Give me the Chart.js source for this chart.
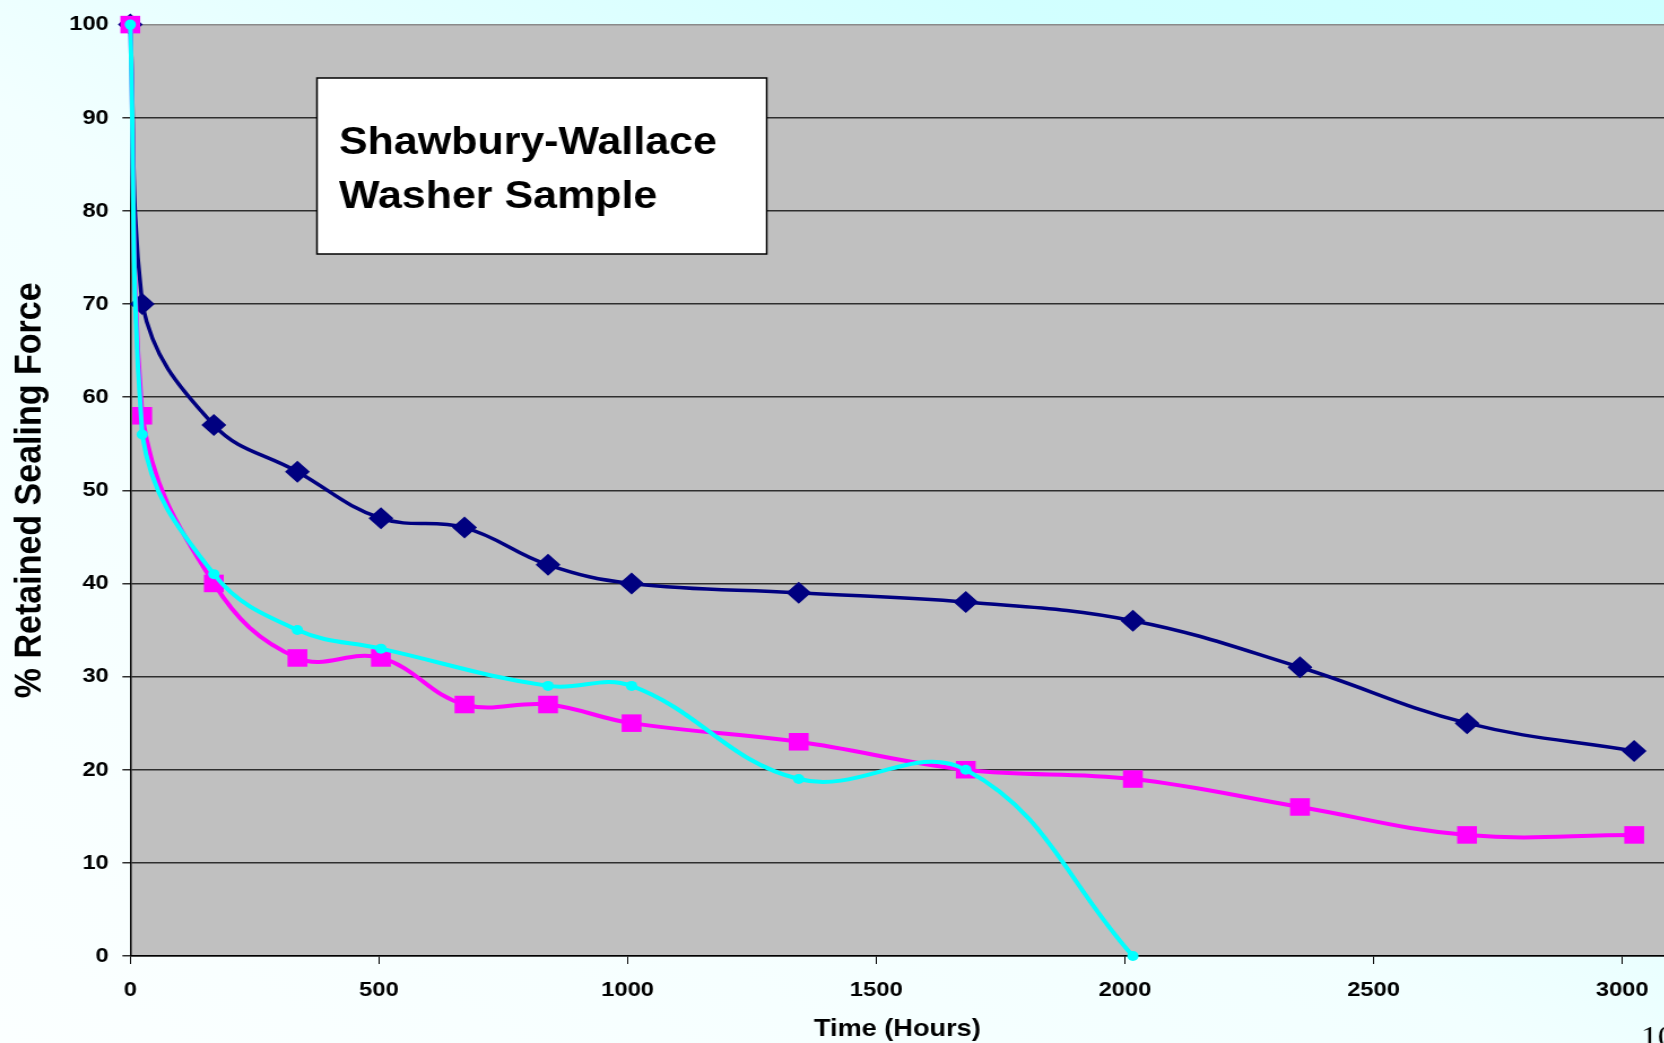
<!DOCTYPE html>
<html>
<head>
<meta charset="utf-8">
<script src="https://cdn.jsdelivr.net/npm/chart.js@4.4.1/dist/chart.umd.min.js"></script>
<style>
    html, body { margin: 0; padding: 0; }
    body {
        width: 1664px; height: 1043px; overflow: hidden;
        background: linear-gradient(to top right, #fbffff 0%, #f2ffff 45%, #d2ffff 80%, #ccffff 100%);
    }
    /* the original slide is stretched sideways, so the canvas is too */
    canvas { display: block; transform: scaleX(1.13); transform-origin: 0 0; }
</style>
</head>
<body>
<canvas id="sealChart" width="1473" height="1043"></canvas>
<script>
// hours on test
const hoursNavy = [0, 24, 168, 336, 504, 672, 840, 1008, 1344, 1680, 2016, 2352, 2688, 3024]
const navyForce = [100, 70, 57, 52, 47, 46, 42, 40, 39, 38, 36, 31, 25, 22]

const hoursPink = [0, 24, 168, 336, 504, 672, 840, 1008, 1344, 1680, 2016, 2352, 2688, 3024]
const pinkForce = [100, 58, 40, 32, 32, 27, 27, 25, 23, 20, 19, 16, 13, 13]

const hoursCyan = [0, 24, 168, 336, 504, 840, 1008, 1344, 1680, 2016]
const cyanForce = [100, 56, 41, 35, 33, 29, 29, 19, 20, 0]

const xTicks = [0, 500, 1000, 1500, 2000, 2500, 3000]
const boxLines = ['Shawbury-Wallace', 'Washer Sample']

const toPoints = (xs, ys) => xs.map((x, i) => ({x: x, y: ys[i]}))
const fontFamily = '"Liberation Sans", Arial, sans-serif'

const plotBackground = {
    id: 'plotBackground',
    beforeDraw(chart) {
        const {ctx, chartArea} = chart
        ctx.save()
        ctx.fillStyle = '#c0c0c0'
        ctx.fillRect(chartArea.left, chartArea.top, chartArea.right - chartArea.left, chartArea.bottom - chartArea.top)
        ctx.restore()
    }
}

const sampleBox = {
    id: 'sampleBox',
    afterDatasetsDraw(chart) {
        const ctx = chart.ctx
        ctx.save()
        ctx.fillStyle = '#ffffff'
        ctx.fillRect(280.5, 78, 398, 176)
        ctx.strokeStyle = '#000000'
        ctx.lineWidth = 1.5
        ctx.strokeRect(280.5, 78, 398, 176)
        ctx.fillStyle = '#000000'
        ctx.font = 'bold 38px ' + fontFamily
        ctx.textBaseline = 'alphabetic'
        ctx.fillText(boxLines[0], 300, 154)
        ctx.fillText(boxLines[1], 300, 208)
        // page number peeking in at the corner
        ctx.font = '30px "Liberation Serif", "Times New Roman", serif'
        ctx.fillText('10', 1452, 1046)
        ctx.restore()
    }
}

const ctx = document.getElementById('sealChart')

new Chart(ctx, {
    type: 'line',
    data: {
        datasets: [
            {
                label: 'Series 3',
                data: toPoints(hoursCyan, cyanForce),
                borderColor: '#00ffff',
                backgroundColor: '#00ffff',
                borderWidth: 4,
                pointStyle: 'circle',
                pointRadius: 5,
                pointBorderWidth: 0,
                tension: 0.4,
                clip: false,
                order: 0
            },
            {
                label: 'Series 2',
                data: toPoints(hoursPink, pinkForce),
                borderColor: '#ff00ff',
                backgroundColor: '#ff00ff',
                borderWidth: 4,
                pointStyle: 'rect',
                pointRadius: 12.4,
                pointBorderWidth: 0,
                tension: 0.4,
                clip: false,
                order: 1
            },
            {
                label: 'Series 1',
                data: toPoints(hoursNavy, navyForce),
                borderColor: '#000080',
                backgroundColor: '#000080',
                borderWidth: 3.5,
                pointStyle: 'rectRot',
                pointRadius: 11,
                pointBorderWidth: 0,
                tension: 0.4,
                clip: false,
                order: 2
            }
        ]
    },
    options: {
        responsive: false,
        animation: false,
        layout: {
            autoPadding: false,
            padding: {top: 23, right: 0, left: 0, bottom: 0}
        },
        plugins: {
            legend: {display: false},
            tooltip: {enabled: false}
        },
        scales: {
            x: {
                type: 'linear',
                min: 0,
                max: 3085,
                afterBuildTicks: scale => {
                    scale.ticks = xTicks.map(v => ({value: v}))
                },
                afterFit: scale => { scale.height = 87 },
                ticks: {
                    color: '#000',
                    padding: 14,
                    maxRotation: 0,
                    callback: value => String(value),
                    font: {family: fontFamily, size: 21, weight: 'bold'}
                },
                grid: {
                    drawOnChartArea: false,
                    drawTicks: true,
                    tickLength: 8,
                    color: '#000'
                },
                border: {color: '#000', width: 1.5},
                title: {
                    display: true,
                    text: 'Time (Hours)',
                    color: '#000',
                    padding: {top: 0, bottom: 0},
                    font: {family: fontFamily, size: 24, weight: 'bold', lineHeight: 1.1}
                }
            },
            y: {
                min: 0,
                max: 100,
                afterFit: scale => { scale.width = 115.3 },
                ticks: {
                    stepSize: 10,
                    color: '#000',
                    padding: 12,
                    callback: value => String(value),
                    font: {family: fontFamily, size: 21, weight: 'bold'}
                },
                grid: {
                    tickLength: 7,
                    lineWidth: 1.5,
                    color: c => c.tick && c.tick.value === 100 ? '#8a8a8a' : '#2e2e2e'
                },
                border: {color: '#000', width: 1.5},
                title: {
                    display: true,
                    text: '% Retained Sealing Force',
                    color: '#000',
                    padding: {top: 6, bottom: 0},
                    font: {family: fontFamily, size: 34, weight: 'bold'}
                }
            }
        }
    },
    plugins: [plotBackground, sampleBox]
})
</script>
</body>
</html>
